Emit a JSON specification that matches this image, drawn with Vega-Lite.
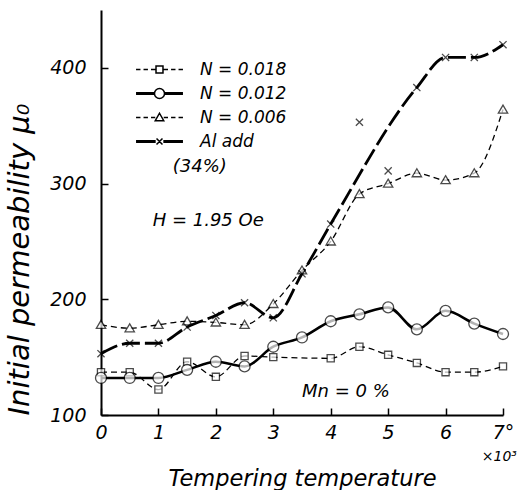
{
  "$schema": "https://vega.github.io/schema/vega-lite/v6.json",
  "width": 402,
  "height": 405,
  "autosize": "none",
  "padding": {"left": 101, "top": 10, "right": 23, "bottom": 75},
  "background": "white",
  "config": {
    "view": {"stroke": null},
    "font": "DejaVu Sans",
    "axis": {
      "grid": false,
      "labelFont": "DejaVu Sans",
      "labelFontStyle": "italic",
      "labelFontSize": 19,
      "labelColor": "black",
      "titleFont": "DejaVu Sans",
      "titleFontStyle": "italic",
      "titleFontWeight": "normal",
      "titleFontSize": 22,
      "titleColor": "black",
      "domainColor": "black",
      "domainWidth": 2,
      "tickColor": "black",
      "tickWidth": 1.5
    },
    "legend": {
      "labelFont": "DejaVu Sans",
      "labelFontStyle": "italic",
      "labelFontSize": 17,
      "labelColor": "black"
    }
  },
  "resolve": {"scale": {"shape": "independent"}},
  "datasets": {
    "measurements": [
      {"t": 0, "mu": 137, "series": "N = 0.018"},
      {"t": 0.5, "mu": 137, "series": "N = 0.018"},
      {"t": 1, "mu": 122, "series": "N = 0.018"},
      {"t": 1.5, "mu": 146, "series": "N = 0.018"},
      {"t": 2, "mu": 133, "series": "N = 0.018"},
      {"t": 2.5, "mu": 151, "series": "N = 0.018"},
      {"t": 3, "mu": 150, "series": "N = 0.018"},
      {"t": 4, "mu": 149, "series": "N = 0.018"},
      {"t": 4.5, "mu": 159, "series": "N = 0.018"},
      {"t": 5, "mu": 152, "series": "N = 0.018"},
      {"t": 5.5, "mu": 145, "series": "N = 0.018"},
      {"t": 6, "mu": 137, "series": "N = 0.018"},
      {"t": 6.5, "mu": 137, "series": "N = 0.018"},
      {"t": 7, "mu": 142, "series": "N = 0.018"},
      {"t": 0, "mu": 132, "series": "N = 0.012"},
      {"t": 0.5, "mu": 132, "series": "N = 0.012"},
      {"t": 1, "mu": 132, "series": "N = 0.012"},
      {"t": 1.5, "mu": 139, "series": "N = 0.012"},
      {"t": 2, "mu": 146, "series": "N = 0.012"},
      {"t": 2.5, "mu": 142, "series": "N = 0.012"},
      {"t": 3, "mu": 159, "series": "N = 0.012"},
      {"t": 3.5, "mu": 167, "series": "N = 0.012"},
      {"t": 4, "mu": 181, "series": "N = 0.012"},
      {"t": 4.5, "mu": 187, "series": "N = 0.012"},
      {"t": 5, "mu": 193, "series": "N = 0.012"},
      {"t": 5.5, "mu": 174, "series": "N = 0.012"},
      {"t": 6, "mu": 190, "series": "N = 0.012"},
      {"t": 6.5, "mu": 179, "series": "N = 0.012"},
      {"t": 7, "mu": 170, "series": "N = 0.012"},
      {"t": 0, "mu": 178, "series": "N = 0.006"},
      {"t": 0.5, "mu": 175, "series": "N = 0.006"},
      {"t": 1, "mu": 178, "series": "N = 0.006"},
      {"t": 1.5, "mu": 181, "series": "N = 0.006"},
      {"t": 2, "mu": 180, "series": "N = 0.006"},
      {"t": 2.5, "mu": 178, "series": "N = 0.006"},
      {"t": 3, "mu": 196, "series": "N = 0.006"},
      {"t": 3.5, "mu": 225, "series": "N = 0.006"},
      {"t": 4, "mu": 250, "series": "N = 0.006"},
      {"t": 4.5, "mu": 291, "series": "N = 0.006"},
      {"t": 5, "mu": 300, "series": "N = 0.006"},
      {"t": 5.5, "mu": 309, "series": "N = 0.006"},
      {"t": 6, "mu": 303, "series": "N = 0.006"},
      {"t": 6.5, "mu": 309, "series": "N = 0.006"},
      {"t": 7, "mu": 364, "series": "N = 0.006"},
      {"t": 0, "mu": 153, "series": "Al add"},
      {"t": 0.5, "mu": 162, "series": "Al add"},
      {"t": 1, "mu": 162, "series": "Al add"},
      {"t": 1.5, "mu": 176, "series": "Al add"},
      {"t": 2, "mu": 186, "series": "Al add"},
      {"t": 2.5, "mu": 197, "series": "Al add"},
      {"t": 3, "mu": 184, "series": "Al add"},
      {"t": 3.5, "mu": 222, "series": "Al add"},
      {"t": 4, "mu": 265, "series": "Al add"},
      {"t": 4.5, "mu": 353, "series": "Al add", "onCurve": false},
      {"t": 5, "mu": 311, "series": "Al add", "onCurve": false},
      {"t": 5.5, "mu": 383, "series": "Al add"},
      {"t": 6, "mu": 409, "series": "Al add"},
      {"t": 6.5, "mu": 409, "series": "Al add"},
      {"t": 7, "mu": 420, "series": "Al add"}
    ],
    "notes": [
      {"t": 0.9, "mu": 268, "label": "H = 1.95 Oe"},
      {"t": 1.25, "mu": 314, "label": "(34%)"},
      {"t": 3.5, "mu": 120, "label": "Mn = 0 %"}
    ],
    "unitNote": [
      {"t": 6.63, "mu": 64, "label": "×10³"}
    ]
  },
  "encoding": {
    "x": {
      "field": "t",
      "type": "quantitative",
      "scale": {"domain": [0, 7], "nice": false, "zero": false},
      "axis": {
        "values": [0, 1, 2, 3, 4, 5, 6, 7],
        "tickSize": -7,
        "labelPadding": 15,
        "labelFlush": false,
        "labelExpr": "datum.value == 7 ? '7°' : datum.label",
        "title": "Tempering temperature",
        "titleFontSize": 22.5,
        "titlePadding": 25
      }
    },
    "y": {
      "field": "mu",
      "type": "quantitative",
      "scale": {"domain": [100, 450], "nice": false, "zero": false},
      "axis": {
        "values": [100, 200, 300, 400],
        "tickSize": -7,
        "labelPadding": 22,
        "title": "Initial permeability μ₀",
        "titleFontSize": 29,
        "titleAnchor": "start",
        "titlePadding": 15
      }
    }
  },
  "layer": [
    {
      "data": {"name": "measurements"},
      "transform": [{"filter": "datum.series === 'N = 0.018' || datum.series === 'N = 0.006'"}],
      "mark": {"type": "line", "interpolate": "monotone", "color": "black", "strokeWidth": 1.3, "strokeDash": [6, 4]},
      "encoding": {"detail": {"field": "series"}}
    },
    {
      "data": {"name": "measurements"},
      "transform": [{"filter": "datum.series === 'N = 0.012'"}],
      "mark": {"type": "line", "interpolate": "monotone", "color": "black", "strokeWidth": 2.5},
      "encoding": {"detail": {"field": "series"}}
    },
    {
      "data": {"name": "measurements"},
      "transform": [{"filter": "datum.series === 'Al add' && datum.onCurve !== false"}],
      "mark": {"type": "line", "interpolate": "monotone", "color": "black", "strokeWidth": 2.8, "strokeDash": [18, 5]},
      "encoding": {"detail": {"field": "series"}}
    },
    {
      "data": {"name": "measurements"},
      "mark": {"type": "point", "filled": true, "fill": "white", "stroke": "black", "strokeWidth": 1.3, "size": 121},
      "encoding": {
        "shape": {
          "field": "series",
          "type": "nominal",
          "scale": {
            "domain": ["N = 0.018", "N = 0.012", "N = 0.006", "Al add"],
            "range": [
              "M-0.65,-0.65H0.65V0.65H-0.65Z",
              "M-1,0A1,1 0 1,0 1,0A1,1 0 1,0 -1,0Z",
              "M0,-0.8L0.85,0.65H-0.85Z",
              "M-0.65,-0.65L0.65,0.65M-0.65,0.65L0.65,-0.65"
            ]
          },
          "legend": null
        }
      }
    },
    {
      "data": {"name": "measurements"},
      "mark": {"type": "point", "filled": true, "fill": "white", "stroke": "black", "strokeWidth": 1.3, "size": 0},
      "encoding": {
        "shape": {
          "field": "series",
          "type": "nominal",
          "scale": {
            "domain": ["N = 0.018", "N = 0.012", "N = 0.006", "Al add"],
            "range": [
              "M-2.76,0L-2.24,0M-1.88,0L-1.36,0M-1,0L-0.48,0M0.48,0L1,0M1.36,0L1.88,0M2.24,0L2.76,0M-0.41,-0.41L0.41,-0.41L0.41,0.41L-0.41,0.41Z",
              "M-2.76,0L-0.59,0M0.59,0L2.76,0M-2.76,-0.08L-0.59,-0.08M0.59,-0.08L2.76,-0.08M-2.76,0.08L-0.59,0.08M0.59,0.08L2.76,0.08M-0.59,0A0.59,0.59 0 1,0 0.59,0A0.59,0.59 0 1,0 -0.59,0Z",
              "M-2.76,0L-2.24,0M-1.88,0L-1.36,0M-1,0L-0.5,0M0.5,0L1,0M1.36,0L1.88,0M2.24,0L2.76,0M0,-0.5L0.5,0.38L-0.5,0.38Z",
              "M-2.76,0L-0.45,0M0.45,0L2.76,0M-2.76,-0.08L-0.45,-0.08M0.45,-0.08L2.76,-0.08M-2.76,0.08L-0.45,0.08M0.45,0.08L2.76,0.08M-0.35,-0.35L0.35,0.35M-0.35,0.35L0.35,-0.35"
            ]
          },
          "legend": {
            "title": null,
            "orient": "none",
            "legendX": 34,
            "legendY": 50,
            "symbolSize": 289,
            "symbolOffset": 15,
            "symbolOpacity": 1,
            "labelOffset": 31,
            "rowPadding": 6
          }
        }
      }
    },
    {
      "data": {"name": "notes"},
      "mark": {"type": "text", "align": "left", "baseline": "middle", "fontStyle": "italic", "font": "DejaVu Sans", "fontSize": 18, "color": "black"},
      "encoding": {"text": {"field": "label"}}
    },
    {
      "data": {"name": "unitNote"},
      "mark": {"type": "text", "align": "left", "baseline": "middle", "fontStyle": "italic", "font": "DejaVu Sans", "fontSize": 14, "color": "black"},
      "encoding": {"text": {"field": "label"}}
    }
  ]
}
